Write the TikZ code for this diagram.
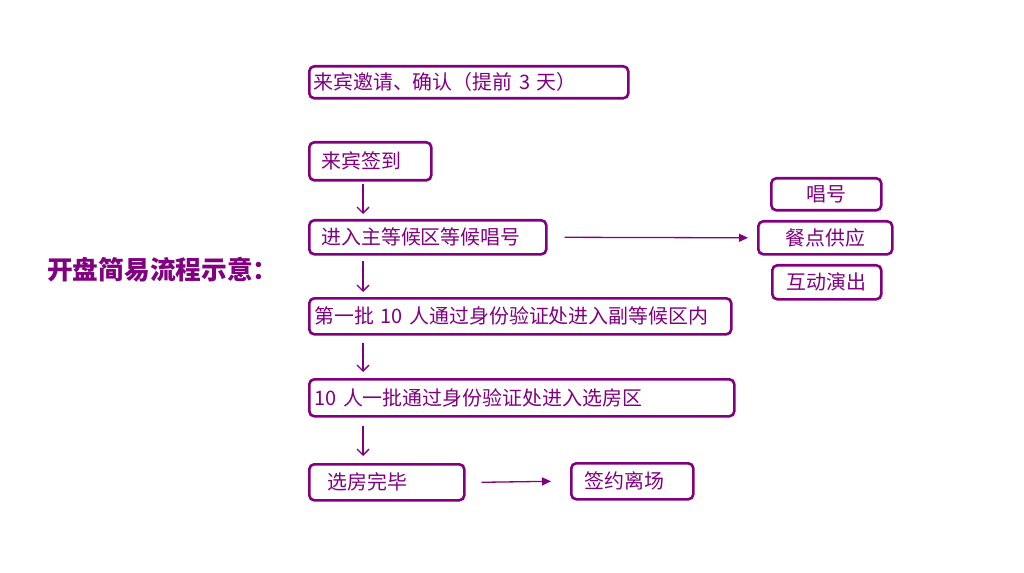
\documentclass[tikz,border=0pt]{standalone}
\usepackage{fontspec}
\setmainfont{Noto Sans CJK SC}
\usetikzlibrary{arrows.meta}
\definecolor{pp}{RGB}{128,0,128}
\begin{document}
\begin{tikzpicture}[x=1bp,y=-1bp,
  box/.style={draw=pp, line width=2.6bp, rounded corners=5bp, text=pp,
    font=\fontsize{20}{23}\selectfont, anchor=north west, inner ysep=0pt},
  lbox/.style={box, align=left},
  cbox/.style={box, align=center, inner xsep=4bp},
  vline/.style={draw=pp, line width=1.3bp, -{Straight Barb[length=6bp,width=12bp]}},
  hline/.style={draw=pp, line width=1.3bp, -{Triangle[length=9bp,width=8bp]}}]
\useasboundingbox (0,0) rectangle (1024,573);
\node[font=\bfseries\fontsize{25.8}{28}\selectfont, text=pp, anchor=west, inner sep=0pt] (title) at (47,270) {开盘简易流程示意：};
\node[lbox, minimum height=32bp, inner xsep=4bp, text width=311bp] (n1) at (308,65) {来宾邀请、确认（提前 3 天）};
\node[lbox, minimum height=38bp, inner xsep=12bp, text width=98bp] (n2) at (308,141) {来宾签到};
\node[lbox, minimum height=34bp, inner xsep=12bp, text width=213bp] (n3) at (308,219) {进入主等候区等候唱号};
\node[lbox, minimum height=36bp, inner xsep=5bp, text width=412bp] (n4) at (308,297) {第一批 10 人通过身份验证处进入副等候区内};
\node[lbox, minimum height=37bp, inner xsep=5bp, text width=415bp] (n5) at (308,378) {10 人一批通过身份验证处进入选房区};
\node[lbox, minimum height=36bp, inner xsep=18bp, text width=119bp] (n6) at (308,463) {选房完毕};
\node[lbox, minimum height=36bp, inner xsep=13bp, text width=96bp] (n7) at (570,462) {签约离场};
\node[cbox, minimum height=32bp, text width=102bp] (n8) at (770,177) {唱号};
\node[cbox, minimum height=33bp, text width=126bp] (n9) at (757,220) {餐点供应};
\node[cbox, minimum height=34bp, text width=101bp] (n10) at (771,264) {互动演出};
\draw[vline] ([xshift=55bp, yshift=-2bp]n2.south west) -- ([xshift=55bp, yshift=5bp]n3.north west);
\draw[vline] ([xshift=55bp, yshift=-5bp]n3.south west) -- ([xshift=55bp, yshift=5bp]n4.north west);
\draw[vline] ([xshift=55bp, yshift=-7bp]n4.south west) -- ([xshift=55bp, yshift=6bp]n5.north west);
\draw[vline] ([xshift=55bp, yshift=-8bp]n5.south west) -- ([xshift=55bp, yshift=7bp]n6.north west);
\draw[hline] ([xshift=17bp]n3.east) -- ([xshift=-9bp]n9.west);
\draw[hline] ([xshift=16bp]n6.east) -- ([xshift=-19bp]n7.west);
\end{tikzpicture}
\end{document}
